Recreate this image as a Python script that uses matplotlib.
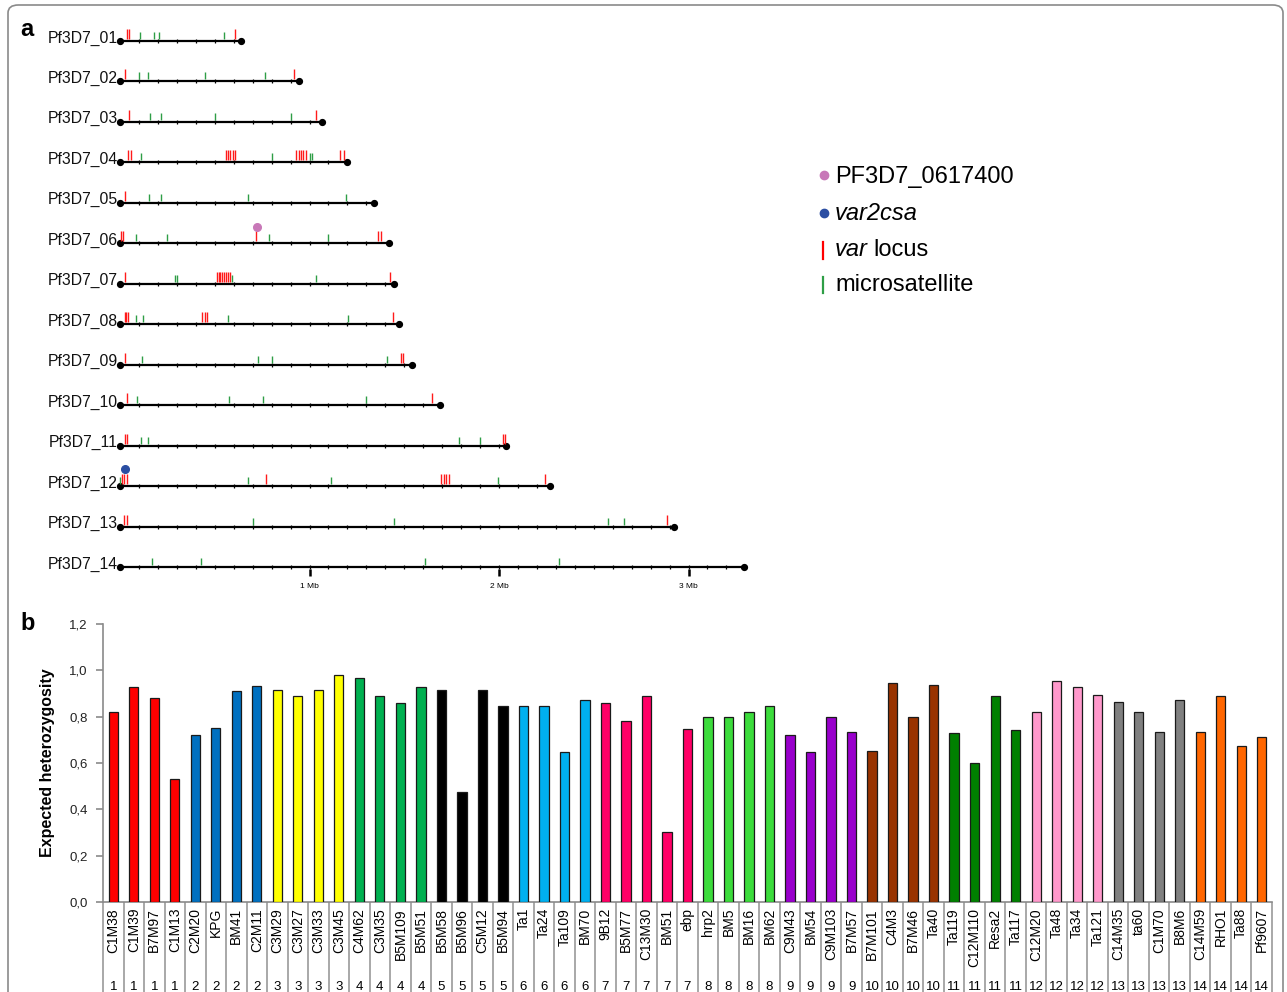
import matplotlib.pyplot as plt
import numpy as np
from matplotlib.patches import FancyBboxPatch
from matplotlib.transforms import blended_transform_factory

plt.rcParams['font.family'] = ['Liberation Sans', 'DejaVu Sans']

# ---------------- panel a data (positions in Mb) ----------------
chrom_names = ['Pf3D7_%02d' % i for i in range(1, 15)]
chrom_len = [0.64, 0.947, 1.067, 1.20, 1.343, 1.418, 1.445, 1.472, 1.541, 1.687, 2.038, 2.271, 2.925, 3.291]

var_loci = [
    [0.035, 0.046, 0.608],
    [0.028, 0.919],
    [0.046, 1.035],
    [0.042, 0.058, 0.557, 0.570, 0.582, 0.594, 0.605, 0.931, 0.944, 0.956, 0.968, 0.981, 1.160, 1.180],
    [0.028],
    [0.007, 0.018, 0.719, 1.360, 1.378],
    [0.026, 0.51, 0.52, 0.53, 0.54, 0.55, 0.56, 0.57, 0.58, 1.425],
    [0.025, 0.033, 0.044, 0.435, 0.447, 0.461, 1.440],
    [0.026, 1.485, 1.492],
    [0.037, 1.645],
    [0.026, 0.037, 2.02, 2.03],
    [0.013, 0.023, 0.036, 0.773, 1.696, 1.709, 1.722, 1.735, 2.242],
    [0.023, 0.036, 2.884],
    [],
]
microsats = [
    [0.108, 0.178, 0.205, 0.548],
    [0.102, 0.146, 0.450, 0.764],
    [0.157, 0.217, 0.500, 0.900],
    [0.111, 0.804, 1.005, 1.012],
    [0.153, 0.216, 0.674, 1.19],
    [0.084, 0.246, 0.787, 1.100],
    [0.288, 0.300, 0.589, 1.035],
    [0.082, 0.121, 0.572, 1.205],
    [0.118, 0.728, 0.804, 1.41],
    [0.091, 0.574, 0.754, 1.30],
    [0.109, 0.147, 1.79, 1.90],
    [0.0, 0.678, 1.111, 1.995],
    [0.704, 1.448, 2.575, 2.657],
    [0.170, 0.425, 1.61, 2.314],
]
pf_gene = (6, 0.722)      # PF3D7_0617400 on chr 6
var2csa = (12, 0.025)     # var2csa on chr 12
mb_ticks = [1, 2, 3]

# ---------------- panel b data ----------------
markers = ['C1M38', 'C1M39', 'B7M97', 'C1M13',
           'C2M20', 'KPG', 'BM41', 'C2M11',
           'C3M29', 'C3M27', 'C3M33', 'C3M45',
           'C4M62', 'C3M35', 'B5M109', 'B5M51',
           'B5M58', 'B5M96', 'C5M12', 'B5M94',
           'Ta1', 'Ta24', 'Ta109', 'BM70',
           '9B12', 'B5M77', 'C13M30', 'BM51', 'ebp',
           'hrp2', 'BM5', 'BM16', 'BM62',
           'C9M43', 'BM54', 'C9M103', 'B7M57',
           'B7M101', 'C4M3', 'B7M46', 'Ta40',
           'Ta119', 'C12M110', 'Resa2', 'Ta117',
           'C12M20', 'Ta48', 'Ta34', 'Ta121',
           'C14M35', 'ta60', 'C1M70', 'B8M6',
           'C14M59', 'RHO1', 'Ta88', 'Pf9607']
marker_chrom = [1] * 4 + [2] * 4 + [3] * 4 + [4] * 4 + [5] * 4 + [6] * 4 + [7] * 5 + \
               [8] * 4 + [9] * 4 + [10] * 4 + [11] * 4 + [12] * 4 + [13] * 4 + [14] * 4
he_values = [0.818, 0.928, 0.881, 0.533,
             0.719, 0.751, 0.911, 0.934,
             0.913, 0.890, 0.913, 0.978,
             0.966, 0.890, 0.860, 0.928,
             0.913, 0.474, 0.913, 0.847,
             0.845, 0.845, 0.646, 0.874,
             0.861, 0.782, 0.890, 0.304, 0.748,
             0.800, 0.800, 0.822, 0.845,
             0.723, 0.646, 0.800, 0.733,
             0.652, 0.946, 0.800, 0.937,
             0.728, 0.600, 0.890, 0.744,
             0.822, 0.956, 0.928, 0.894,
             0.864, 0.822, 0.733, 0.874,
             0.732, 0.890, 0.673, 0.712]
chrom_colors = {1: '#FF0000', 2: '#0070C0', 3: '#FFFF00', 4: '#00B050', 5: '#000000',
                6: '#00B0F0', 7: '#FF0066', 8: '#3CDC3C', 9: '#9900CC', 10: '#993300',
                11: '#008000', 12: '#FF99CC', 13: '#808080', 14: '#FF6600'}

W, H = 1287, 992
fig = plt.figure(figsize=(W / 100, H / 100), dpi=100)


def fx(px):
    return px / W


def fy(py):
    return 1 - py / H


# frame around the figure
fig.patches.append(FancyBboxPatch((fx(8), fy(1010)), fx(1283) - fx(8), fy(5) - fy(1010),
                                  boxstyle='round,pad=0,rounding_size=0.008',
                                  transform=fig.transFigure, fill=False,
                                  edgecolor='#8a8a8a', linewidth=1.2))

# ---------------- panel a ----------------
axa = fig.add_axes([0, fy(600), 1, fy(0) - fy(600)])
axa.set_xlim(-120 / 189.5, (W - 120) / 189.5)
axa.set_ylim(1 + (600 - 41) / 40.46, 1 - 41 / 40.46)
axa.axis('off')

px_y = 1 / 40.46
for i, (name, L) in enumerate(zip(chrom_names, chrom_len)):
    y = i + 1
    axa.plot([0, L], [y, y], color='black', lw=1.6, solid_capstyle='butt', zorder=2)
    tks = np.arange(0.1, L - 0.02, 0.1)
    axa.plot(tks, [y] * len(tks), ls='none', marker='|', ms=3.5, mew=0.9, color='black', zorder=2)
    axa.plot([0, L], [y, y], ls='none', marker='o', ms=4.2, color='black', zorder=3)
    axa.text(-0.012, y - 3 * px_y, name, ha='right', va='center', fontsize=11.3, color='#111111')
    if var_loci[i]:
        axa.vlines(var_loci[i], y - 12 * px_y, y - 2 * px_y, color='#FF1A1A', lw=1.0, zorder=4)
    axa.vlines(microsats[i], y - 9 * px_y, y - 2 * px_y, color='#2E9E46', lw=1.0, zorder=4)

axa.plot(pf_gene[1], pf_gene[0] - 16 * px_y, 'o', ms=5.5, color='#C878B8', zorder=5)
axa.plot(var2csa[1], var2csa[0] - 17 * px_y, 'o', ms=5.5, color='#2B4EA2', zorder=5)

y_ax = 14 + 9 * px_y
for m in mb_ticks:
    axa.vlines(m, y_ax, y_ax - 7 * px_y, color='black', lw=1.8)
    axa.text(m, y_ax + 10.5 * px_y, '%d Mb' % m, ha='center', va='center', fontsize=6)

# legend
fig.lines.append(plt.Line2D([fx(824)], [fy(175)], marker='o', ms=6, color='#C878B8',
                            transform=fig.transFigure))
fig.lines.append(plt.Line2D([fx(824)], [fy(213)], marker='o', ms=6, color='#2B4EA2',
                            transform=fig.transFigure))
fig.lines.append(plt.Line2D([fx(823), fx(823)], [fy(242), fy(259)], lw=1.6, color='#FF0000',
                            transform=fig.transFigure))
fig.lines.append(plt.Line2D([fx(823), fx(823)], [fy(277), fy(293)], lw=1.6, color='#2E9E46',
                            transform=fig.transFigure))
fig.text(fx(835), fy(177), 'PF3D7_0617400', fontsize=17, va='center', ha='left')
fig.text(fx(835), fy(214), 'var2csa', fontsize=17, va='center', ha='left', style='italic')
fig.text(fx(835), fy(250), 'var', fontsize=17, va='center', ha='left', style='italic')
fig.text(fx(873), fy(250), 'locus', fontsize=17, va='center', ha='left')
fig.text(fx(835), fy(285), 'microsatellite', fontsize=17, va='center', ha='left')

fig.text(fx(20), fy(30), 'a', fontsize=17, fontweight='bold', va='center', ha='left')
fig.text(fx(20), fy(624), 'b', fontsize=17, fontweight='bold', va='center', ha='left')

# ---------------- panel b ----------------
axb = fig.add_axes([fx(103), fy(902), fx(1272) - fx(103), fy(624) - fy(902)])
x = np.arange(len(markers))
axb.bar(x, he_values, width=0.45, color=[chrom_colors[c] for c in marker_chrom],
        edgecolor='#1a1a1a', linewidth=0.9, zorder=3)
axb.set_xlim(-0.5, len(markers) - 0.5)
axb.set_ylim(0, 1.2)
yt = np.arange(0, 1.21, 0.2)
axb.set_yticks(yt)
axb.set_yticklabels([('%.1f' % v).replace('.', ',') for v in yt], fontsize=9.5, color='#222222')
axb.set_xticks([])
for s in ['top', 'right']:
    axb.spines[s].set_visible(False)
for s in ['left', 'bottom']:
    axb.spines[s].set_color('#8a8a8a')
    axb.spines[s].set_linewidth(1.2)
axb.tick_params(axis='y', length=5, color='#8a8a8a', width=1.2, pad=6)
axb.set_ylabel('Expected heterozygosity', fontsize=11.5, fontweight='bold', labelpad=10)

tr = blended_transform_factory(axb.transData, axb.transAxes)
axb.vlines(np.arange(len(markers) + 1) - 0.5, -0.5, 0, transform=tr, color='#9a9a9a',
           lw=1.2, clip_on=False)
for i, (lab, c) in enumerate(zip(markers, marker_chrom)):
    axb.text(i, -6 / 278, lab, transform=tr, rotation=90, ha='center', va='top', fontsize=10)
    axb.text(i, -79 / 278, str(c), transform=tr, ha='center', va='top', fontsize=9.5)

fig.savefig('out.png', dpi=100)
